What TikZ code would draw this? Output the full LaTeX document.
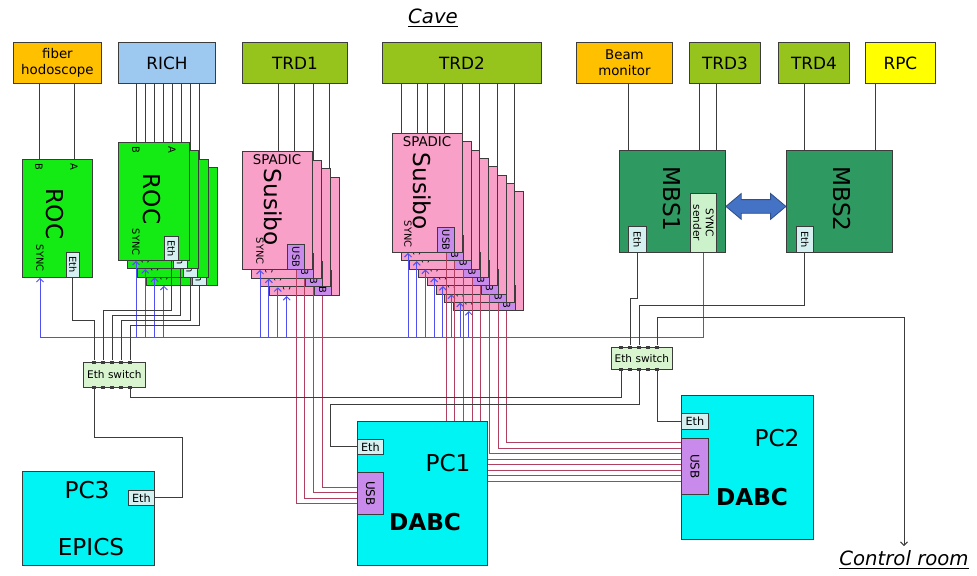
\documentclass[tikz,border=0pt]{standalone}
\usepackage{fontspec}
\setmainfont{DejaVu Sans}
\usetikzlibrary{arrows.meta,positioning,calc,backgrounds,shapes.arrows}
\pgfdeclarelayer{wires}
\pgfdeclarelayer{front}
\pgfsetlayers{background,main,wires,front}
\definecolor{CaveInk}{HTML}{3C3C3C}
\definecolor{CaveOrange}{HTML}{FFC000}
\definecolor{CaveSky}{HTML}{9DC8F0}
\definecolor{CaveTrd}{HTML}{97C41C}
\definecolor{CaveYellow}{HTML}{FFFF00}
\definecolor{CaveRoc}{HTML}{14EA14}
\definecolor{CavePink}{HTML}{F9A0C8}
\definecolor{CaveMbs}{HTML}{2E9A62}
\definecolor{CavePc}{HTML}{00F4F4}
\definecolor{CaveEth}{HTML}{D4F0F0}
\definecolor{CaveUsb}{HTML}{C98BEB}
\definecolor{CaveSend}{HTML}{CCF2CC}
\definecolor{CaveSwitch}{HTML}{D8F5D0}
\definecolor{CaveSync}{HTML}{5050F0}
\definecolor{CaveUsbLine}{HTML}{B04060}
\definecolor{CaveArrow}{HTML}{4472C4}

\begin{document}
\begin{tikzpicture}[x=0.025cm, y=-0.025cm,
    sized/.style 2 args={minimum width={#1*0.025cm}, minimum height={#2*0.025cm}},
    box/.style={draw=CaveInk, line width=0.6pt, inner sep=0pt, anchor=north west, align=center},
    toplbl/.style={font=\fontsize{12}{13}\selectfont},
    note/.style={font=\fontsize{9.5}{11}\selectfont},
    big/.style={font=\fontsize{16.5}{18}\selectfont, inner sep=0pt},
    tag/.style={font=\fontsize{7}{8}\selectfont, inner sep=0pt},
    vtag/.style={tag, rotate=-90},
    jack/.style={fill=CaveInk, inner sep=0pt, minimum width=0.1cm, minimum height=0.075cm},
    eline/.style={draw=CaveInk, line width=0.7pt},
    sline/.style={draw=CaveSync, line width=0.7pt},
    uline/.style={draw=CaveUsbLine, line width=0.6pt},
    syncarrow/.style={-{Straight Barb[length=2.5pt, width=5pt]}},
    site/.style={font=\fontsize{14}{16}\selectfont\itshape}
  ]
  \useasboundingbox (0,0) rectangle (977,575);
  \node[site] (cave) at (433,18) {\underline{Cave}};
  \node[box, note, fill=CaveOrange, sized={88}{41}] (fiber) at (13,42) {fiber\\hodoscope};
  \node[box, toplbl, fill=CaveSky, sized={97}{41}] (rich) at (118,42) {RICH};
  \node[box, toplbl, fill=CaveTrd, sized={105}{41}] (trdA) at (242,42) {TRD1};
  \node[box, toplbl, fill=CaveTrd, sized={159}{41}] (trdB) at (382,42) {TRD2};
  \node[box, note, fill=CaveOrange, sized={96}{41}] (beam) at (576,42) {Beam\\monitor};
  \node[box, toplbl, fill=CaveTrd, sized={71}{41}] (trdC) at (689,42) {TRD3};
  \node[box, toplbl, fill=CaveTrd, sized={71}{41}] (trdD) at (778,42) {TRD4};
  \node[box, toplbl, fill=CaveYellow, sized={70}{41}] (rpc) at (865,42) {RPC};

  \node[box, fill=CaveRoc, sized={70}{118}] (rocA) at (22,159) {};
  \node[vtag] (rocAb) at (39,167) {B};
  \node[vtag] (rocAa) at (74,167) {A};
  \node[big, rotate=-90] (rocAname) at (55,214) {ROC};
  \node[vtag] (rocAsync) at (40,258) {SYNC};
  \node[box, tag, fill=CaveEth, sized={13}{25}] (rocAeth) at (66,252) {\rotatebox{-90}{Eth}};

  \foreach \k in {3,2,1,0} {
    \node[box, fill=CaveRoc, sized={71}{118}] (rocB\k) at ({118+9.3*\k},{142+8.3*\k}) {};
    \node[vtag] (rocBsync\k) at ({136+9.3*\k},{242+8.3*\k}) {SYNC};
    \node[box, tag, fill=CaveEth, sized={14}{24}] (rocBeth\k) at ({164+9.3*\k},{236+8.3*\k}) {\rotatebox{-90}{Eth}};
  }
  \node[vtag] (rocBb) at ($(rocB0.north west)+(18,8)$) {B};
  \node[vtag] (rocBa) at ($(rocB0.north west)+(54,8)$) {A};
  \node[big, rotate=-90] (rocBname) at ($(rocB0.north west)+(34,57)$) {ROC};

  \foreach \k in {3,2,1,0} {
    \node[box, fill=CavePink, sized={70}{118}] (suA\k) at ({242+8.9*\k},{151+8.7*\k}) {};
    \node[vtag] (suAsync\k) at ({260+8.9*\k},{251+8.7*\k}) {SYNC};
    \node[box, tag, fill=CaveUsb, sized={17}{25}] (suAusb\k) at ({287+8.9*\k},{244+8.7*\k}) {\rotatebox{-90}{USB}};
  }
  \node[note] (suAchip) at ($(suA0.north west)+(35,9)$) {SPADIC};
  \node[big, rotate=-90] (suAname) at ($(suA0.north west)+(31,56)$) {Susibo};

  \foreach \k in {7,6,...,0} {
    \node[box, fill=CavePink, sized={70}{119}] (suB\k) at ({392+8.7*\k},{133+8.3*\k}) {};
    \node[vtag] (suBsync\k) at ({408+8.7*\k},{234+8.3*\k}) {SYNC};
    \node[box, tag, fill=CaveUsb, sized={17}{25}] (suBusb\k) at ({437+8.7*\k},{227+8.3*\k}) {\rotatebox{-90}{USB}};
  }
  \node[note] (suBchip) at ($(suB0.north west)+(35,9)$) {SPADIC};
  \node[big, rotate=-90] (suBname) at ($(suB0.north west)+(30,58)$) {Susibo};

  \node[box, fill=CaveMbs, sized={106}{102}] (mbsA) at (619,150) {};
  \node[big, rotate=-90] (mbsAname) at (672,199) {MBS1};
  \node[box, font=\fontsize{7.5}{8}\selectfont, fill=CaveSend, sized={26}{59}] (mbsAsync) at (690,193) {\rotatebox{-90}{\shortstack{SYNC\\sender}}};
  \node[box, tag, fill=CaveEth, sized={18}{26}] (mbsAeth) at (628,226) {\rotatebox{-90}{Eth}};
  \node[box, fill=CaveMbs, sized={106}{102}] (mbsB) at (786,150) {};
  \node[big, rotate=-90] (mbsBname) at (842,199) {MBS2};
  \node[box, tag, fill=CaveEth, sized={17}{26}] (mbsBeth) at (796,226) {\rotatebox{-90}{Eth}};
  \node[double arrow, fill=CaveArrow, draw=CaveArrow!70!black, line width=0.6pt,
    minimum height=1.5cm, inner sep=0.16cm, double arrow head extend=0.15cm,
    double arrow tip angle=80] (link) at ($(mbsA.east)!0.5!(mbsB.west)+(0,5)$) {};

  \node[site] (ctrlroom) at (904,560) {\underline{Control room}};

  \begin{pgfonlayer}{front}
    \node[box, fill=CaveSwitch, sized={62}{25}, font=\fontsize{7.5}{8}\selectfont] (swL) at (83,362) {Eth switch};
    \node[box, fill=CaveSwitch, sized={61}{22}, font=\fontsize{7.5}{8}\selectfont] (swR) at (611,347) {Eth switch};
    \foreach \k in {0,...,4} {
      \node[jack] (swL-t\k) at ({94+9*\k},362) {};
      \node[jack] (swL-b\k) at ({94+9*\k},387) {};
      \node[jack] (swR-t\k) at ({621+9*\k},347) {};
      \node[jack] (swR-b\k) at ({621+9*\k},369) {};
    }
    \node[box, fill=CavePc, sized={130}{144}] (pcA) at (357,421) {};
    \node[big] (pcAname) at (448,463) {PC1};
    \node[big, font=\fontsize{16.5}{18}\selectfont\bfseries] (pcAsw) at (425,522) {DABC};
    \node[box, fill=CaveEth, sized={26}{15}, font=\fontsize{8}{9}\selectfont] (pcAeth) at (357,439) {Eth};
    \node[box, font=\fontsize{8.5}{9}\selectfont, fill=CaveUsb, sized={26}{42}] (pcAusb) at (357,472) {\rotatebox{-90}{USB}};
    \node[box, fill=CavePc, sized={132}{144}] (pcB) at (681,395) {};
    \node[big] (pcBname) at (777,438) {PC2};
    \node[big, font=\fontsize{16.5}{18}\selectfont\bfseries] (pcBsw) at (752,497) {DABC};
    \node[box, fill=CaveEth, sized={27}{16}, font=\fontsize{8}{9}\selectfont] (pcBeth) at (681,413) {Eth};
    \node[box, font=\fontsize{8.5}{9}\selectfont, fill=CaveUsb, sized={27}{56}] (pcBusb) at (681,438) {\rotatebox{-90}{USB}};
    \node[box, fill=CavePc, sized={132}{94}] (pcC) at (22,471) {};
    \node[big] (pcCname) at (87,490) {PC3};
    \node[big] (pcCsw) at (91,547) {EPICS};
    \node[box, fill=CaveEth, sized={26}{15}, font=\fontsize{8}{9}\selectfont] (pcCeth) at (128,490) {Eth};
  \end{pgfonlayer}

  \begin{scope}[on background layer]
    \draw[eline] (rocAb |- fiber.south) -- (rocAb |- rocA.north);
    \draw[eline] (rocAa |- fiber.south) -- (rocAa |- rocA.north);
    \foreach \k in {0,...,7}
      \draw[eline] ($(rich.south west)+({18+9*\k},0)$) -- +(0,83);
    \foreach \dx in {36,52,71,87}
      \draw[eline] ($(trdA.south west)+(\dx,0)$) -- +(0,100);
    \foreach \dx in {19,35,45,62,80,97,115,132}
      \draw[eline] ($(trdB.south west)+(\dx,0)$) -- +(0,112);
    \draw[eline] ($(beam.south west)+(52,0)$) -- +(0,67);
    \foreach \dx in {10,27}
      \draw[eline] ($(trdC.south west)+(\dx,0)$) -- +(0,67);
    \draw[eline] ($(trdD.south west)+(26,0)$) -- +(0,67);
    \draw[eline] ($(rpc.south west)+(10,0)$) -- +(0,67);
  \end{scope}

  \begin{pgfonlayer}{wires}
    \coordinate (bus) at ($(rocA.south west)+(18,60)$);
    \draw[sline] (mbsAsync.south) |- (bus);
    \draw[sline, syncarrow] (rocAsync |- bus) -- (rocAsync |- rocA.south);
    \foreach \k in {0,...,3} {
      \draw[sline, syncarrow] (rocBsync\k |- bus) -- (rocBsync\k |- rocB\k.south);
      \draw[sline, syncarrow] (suAsync\k |- bus) -- (suAsync\k |- suA\k.south);
    }
    \foreach \k in {0,...,7}
      \draw[sline, syncarrow] (suBsync\k |- bus) -- (suBsync\k |- suB\k.south);

    \foreach \k in {0,...,3}
      \draw[uline] (suAusb\k.south) |- ($(pcAusb.west)+(0,{10-5.3*\k})$);
    \foreach \k in {0,...,7}
      \draw[uline] (suBusb\k.south) |- ($(pcBusb.west)+(0,{14.5-5.5*\k})$);

    \draw[eline] (rocAeth.south) -- ++(0,43) -| (swL-t0.north);
    \foreach \k/\j in {0/1,1/2,2/3,3/4}
      \draw[eline] (rocBeth\k.south) |- ($(swL-t\j.north)+(0,{-50+5*\k})$) -- (swL-t\j.north);
    \draw[eline] (swL-b0.south) |- ($(pcCeth.east)+(28,-60)$) |- (pcCeth.east);
    \draw[eline] (swL-b4.south) |- ($(swR-b0.south)+(0,27)$) -- (swR-b0.south);
    \draw[eline] (swR-b2.south) |- ($(pcAeth.west)+(-27,-42)$) |- (pcAeth.west);
    \draw[eline] (swR-b4.south) |- (pcBeth.west);
    \draw[eline] (mbsAeth.south) |- ($(swR-t1.north)+(0,-47)$) -- (swR-t1.north);
    \draw[eline] (mbsBeth.south) |- ($(swR-t2.north)+(0,-40)$) -- (swR-t2.north);
    \draw[eline, syncarrow] (swR-t4.north) -- ++(0,-28) -| (ctrlroom.north);
  \end{pgfonlayer}
\end{tikzpicture}
\end{document}
